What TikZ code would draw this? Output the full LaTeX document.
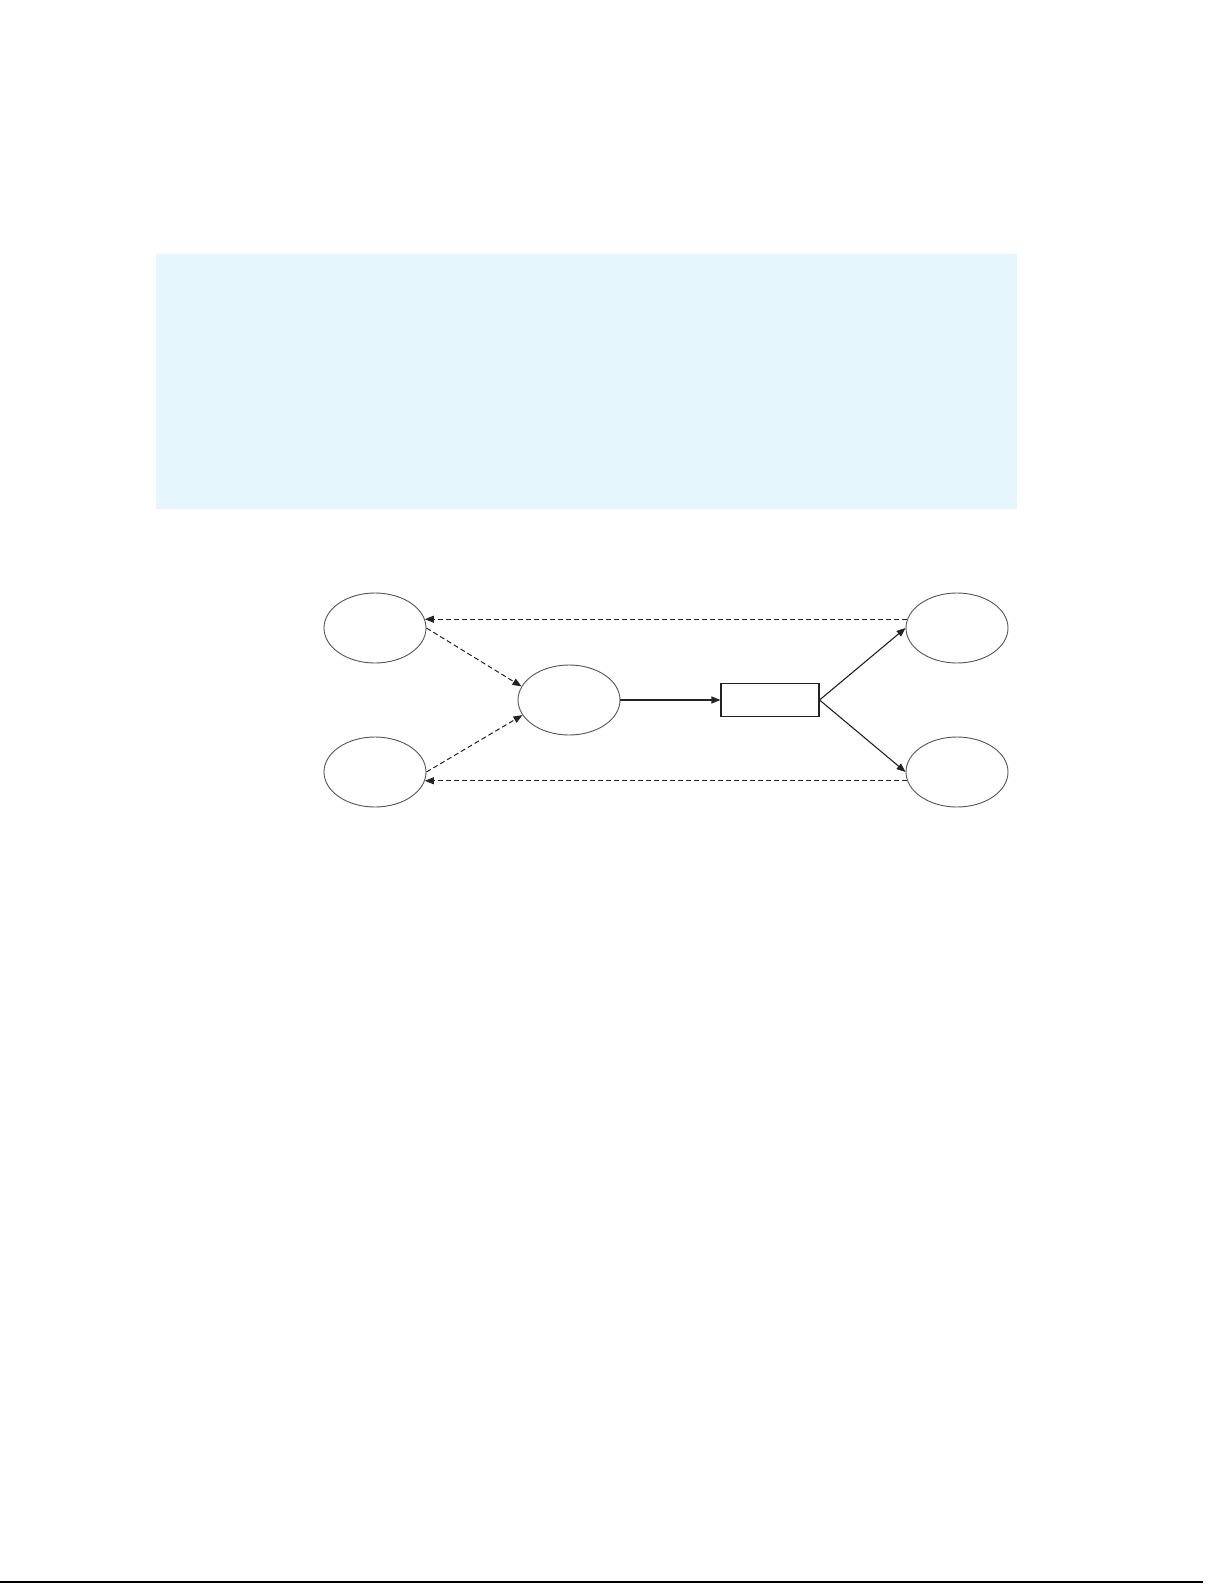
\documentclass[tikz,border=0pt]{standalone}
\usetikzlibrary{shapes.geometric,arrows.meta}
\definecolor{panelblue}{RGB}{229,246,253}
\definecolor{outlinegray}{RGB}{85,85,85}
\definecolor{linedark}{RGB}{35,35,35}
\begin{document}
\begin{tikzpicture}[x=1bp,y=-1bp,
  oval/.style={ellipse,draw=outlinegray,line width=0.9bp,minimum width=102bp,minimum height=70bp,inner sep=0pt},
  boxnode/.style={rectangle,draw=linedark,line width=1.1bp,minimum width=98bp,minimum height=33bp,inner sep=0pt},
  solidarrow/.style={draw=linedark,line width=1.1bp,-{Triangle[length=9bp,width=7bp]}},
  dasharrow/.style={draw=linedark,line width=1bp,dash pattern=on 5bp off 3bp,-{Triangle[length=9bp,width=7bp]}}]
\useasboundingbox (0,0) rectangle (1225,1585);
\fill[panelblue] (156,254) rectangle (1017,509);
\node[oval] (tl) at (375,628) {};
\node[oval] (bl) at (375,772) {};
\node[oval] (c) at (569,700) {};
\node[boxnode] (r) at (770,700) {};
\node[oval] (tr) at (957,628) {};
\node[oval] (br) at (957,772) {};
\draw[dasharrow] (tr.170) -- (tl.10);
\draw[dasharrow] (br.190) -- (bl.350);
\draw[dasharrow] (tl.east) -- (c.164);
\draw[dasharrow] (bl.east) -- (c.198);
\draw[solidarrow] (c.east) -- (r.west);
\draw[solidarrow] (r.east) -- (tr.west);
\draw[solidarrow] (r.east) -- (br.west);
\draw[line width=2bp,black] (0,1582) -- (1203,1582);
\end{tikzpicture}
\end{document}
